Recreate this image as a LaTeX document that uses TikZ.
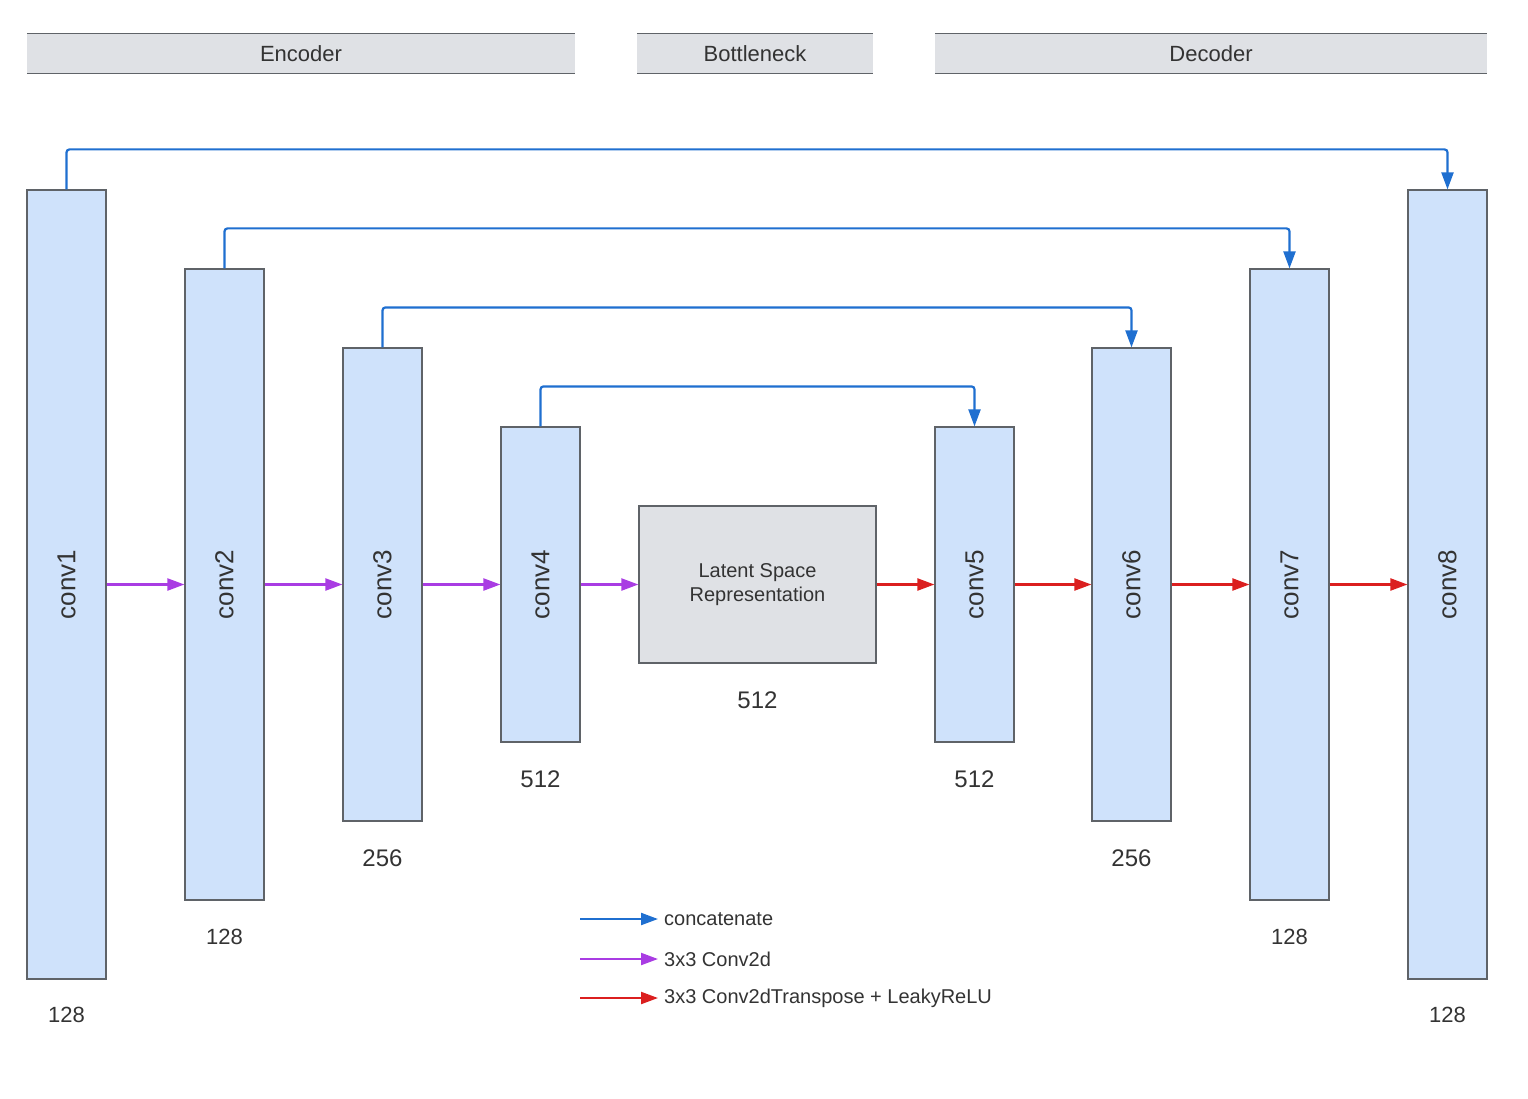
\documentclass[tikz,border=0pt]{standalone}
\usepackage{fontspec}
\setmainfont{Liberation Sans}
\usetikzlibrary{arrows.meta}
\definecolor{blockfill}{HTML}{CFE2FB}
\definecolor{blockline}{HTML}{5F6368}
\definecolor{hdrfill}{HTML}{DFE1E5}
\definecolor{txt}{HTML}{333333}
\definecolor{skipblue}{HTML}{1F6FD0}
\definecolor{convpurple}{HTML}{A93CE3}
\definecolor{deconvred}{HTML}{DB1F1F}
\tikzset{
  block/.style={draw=blockline, line width=1.2pt, fill=blockfill, inner sep=0pt,
    minimum width=79pt, text=txt, font=\fontsize{26}{30}\selectfont},
  latent/.style={draw=blockline, line width=1.2pt, fill=hdrfill, inner sep=0pt,
    minimum width=237pt, minimum height=157pt, text=txt, align=center,
    font=\fontsize{20}{24}\selectfont},
  hdr/.style={fill=hdrfill, inner sep=0pt, minimum height=39pt, text=txt,
    font=\fontsize{22}{26}\selectfont},
  hdrline/.style={draw=blockline, line width=1.2pt},
  numbig/.style={text=txt, font=\fontsize{24}{28}\selectfont, inner sep=0pt},
  numsmall/.style={text=txt, font=\fontsize{22}{26}\selectfont, inner sep=0pt},
  legtext/.style={text=txt, font=\fontsize{20}{24}\selectfont, inner xsep=6pt, inner ysep=0pt, anchor=west},
  skipline/.style={draw=skipblue, line width=2.2pt, rounded corners=3pt,
    -{Triangle[length=17pt,width=12pt]}},
  convarrow/.style={draw=convpurple, line width=2.2pt, -{Triangle[length=17pt,width=12pt]}},
  deconvarrow/.style={draw=deconvred, line width=2.2pt, -{Triangle[length=17pt,width=12pt]}},
}
\begin{document}
\begin{tikzpicture}[x=1pt,y=-1pt]
\useasboundingbox (0,0) rectangle (1528,1099);
% headers
\node[hdr, minimum width=548pt] (henc) at (301,53.5) {Encoder};
\node[hdr, minimum width=236pt] (hbot) at (755,53.5) {Bottleneck};
\node[hdr, minimum width=552pt] (hdec) at (1211,53.5) {Decoder};
\foreach \h in {henc,hbot,hdec}{
  \draw[hdrline] (\h.north west) -- (\h.north east);
  \draw[hdrline] (\h.south west) -- (\h.south east);
}
% blocks
\node[block, minimum height=789pt] (c1) at (66.5,584.5) {\rotatebox{90}{conv1}};
\node[block, minimum height=631pt] (c2) at (224.5,584.5) {\rotatebox{90}{conv2}};
\node[block, minimum height=473pt] (c3) at (382.5,584.5) {\rotatebox{90}{conv3}};
\node[block, minimum height=315pt] (c4) at (540.5,584.5) {\rotatebox{90}{conv4}};
\node[latent] (lat) at (757.5,584.5) {Latent Space\\Representation};
\node[block, minimum height=315pt] (c5) at (974.5,584.5) {\rotatebox{90}{conv5}};
\node[block, minimum height=473pt] (c6) at (1131.5,584.5) {\rotatebox{90}{conv6}};
\node[block, minimum height=631pt] (c7) at (1289.5,584.5) {\rotatebox{90}{conv7}};
\node[block, minimum height=789pt] (c8) at (1447.5,584.5) {\rotatebox{90}{conv8}};
% sizes
\node[numsmall] (n1) at (66.5,1015) {128};
\node[numsmall] (n2) at (224.5,937) {128};
\node[numbig] (n3) at (382.5,858) {256};
\node[numbig] (n4) at (540.5,779) {512};
\node[numbig] (nl) at (757.5,700) {512};
\node[numbig] (n5) at (974.5,779) {512};
\node[numbig] (n6) at (1131.5,858) {256};
\node[numsmall] (n7) at (1289.5,937) {128};
\node[numsmall] (n8) at (1447.5,1015) {128};
% forward arrows
\draw[convarrow] (c1.east) -- (c2.west);
\draw[convarrow] (c2.east) -- (c3.west);
\draw[convarrow] (c3.east) -- (c4.west);
\draw[convarrow] (c4.east) -- (lat.west);
\draw[deconvarrow] (lat.east) -- (c5.west);
\draw[deconvarrow] (c5.east) -- (c6.west);
\draw[deconvarrow] (c6.east) -- (c7.west);
\draw[deconvarrow] (c7.east) -- (c8.west);
% skip connections
\draw[skipline] (c1.north) -- ++(0,-40) -| (c8.north);
\draw[skipline] (c2.north) -- ++(0,-40) -| (c7.north);
\draw[skipline] (c3.north) -- ++(0,-40) -| (c6.north);
\draw[skipline] (c4.north) -- ++(0,-40) -| (c5.north);
% legend
\coordinate (la1) at (580,919);
\coordinate (la2) at (580,959);
\coordinate (la3) at (580,998);
\node[legtext] (lt1) at (658,919) {concatenate};
\node[legtext] (lt2) at (658,959) {3x3 Conv2d};
\node[legtext] (lt3) at (658,998) {3x3 Conv2dTranspose + LeakyReLU};
\draw[skipline] (la1) -- (lt1.west);
\draw[convarrow] (la2) -- (lt2.west);
\draw[deconvarrow] (la3) -- (lt3.west);
\end{tikzpicture}
\end{document}
